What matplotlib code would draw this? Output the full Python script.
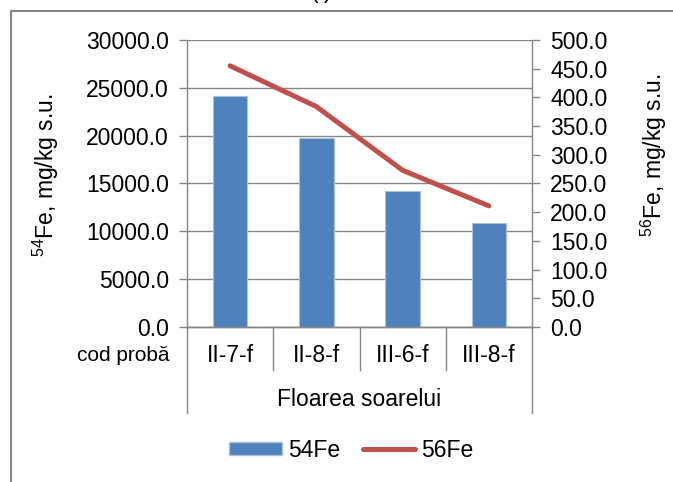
import numpy as np
import matplotlib
matplotlib.use('Agg')
import matplotlib.pyplot as plt
import matplotlib.patches as patches
from matplotlib.lines import Line2D
from matplotlib.ticker import FormatStrFormatter, MultipleLocator

plt.rcParams['font.family'] = ['Liberation Sans', 'DejaVu Sans']

# Donnees
probe = ['II-7-f', 'II-8-f', 'III-6-f', 'III-8-f']
fe54 = [24100, 19800, 14200, 10900]
fe56 = [455, 384, 273, 211]
grup = 'Floarea soarelui'

bleu = '#4F81BD'
rouge = '#C0504D'
gris = '#868686'

############################### Figure #################################
fig = plt.figure(figsize=(6.73, 4.82), dpi=100)
ax = fig.add_axes([187 / 673, 1 - 327 / 482, 345 / 673, 287 / 482])
ax2 = ax.twinx()

x = np.arange(len(probe))
ax.bar(x, fe54, width=0.4, color=bleu, edgecolor='#A9C1DF', linewidth=0.8, zorder=3)
ax2.plot(x, fe56, color=rouge, linewidth=3.6, solid_capstyle='round', zorder=4)

ax.set_xlim(-0.5, len(probe) - 0.5)
ax.set_ylim(0, 30000)
ax2.set_ylim(0, 500)
ax.yaxis.set_major_locator(MultipleLocator(5000))
ax2.yaxis.set_major_locator(MultipleLocator(50))
ax.yaxis.set_major_formatter(FormatStrFormatter('%.1f'))
ax2.yaxis.set_major_formatter(FormatStrFormatter('%.1f'))
ax.grid(axis='y', color=gris, linewidth=1.0, zorder=0)
ax.set_axisbelow(True)

for a in (ax, ax2):
    a.spines['top'].set_visible(False)
    for s in ('left', 'right', 'bottom'):
        a.spines[s].set_color(gris)
        a.spines[s].set_linewidth(1.0)
    a.tick_params(axis='y', labelsize=16.5, color=gris, length=6, width=1.0, pad=7)
ax2.spines['left'].set_visible(False)
ax.spines['right'].set_visible(False)

ax.set_xticks([])
ax.set_ylabel('$\\mathregular{^{54}}$Fe, mg/kg s.u.', fontsize=16.5)
ax2.set_ylabel('$\\mathregular{^{56}}$Fe, mg/kg s.u.', fontsize=16.5)
# position des titres d'axes (comme dans Excel, pas tout a fait centres)
ax.yaxis.label.set_verticalalignment('center')
ax2.yaxis.label.set_verticalalignment('center')
ax.yaxis.set_label_coords(-0.41, 0.53)
ax2.yaxis.set_label_coords(1.354, 0.60)

# axe des categories a deux niveaux
trans = ax.get_xaxis_transform()
for b in np.arange(len(probe) + 1) - 0.5:
    bas = -0.30 if b in (-0.5, len(probe) - 0.5) else -0.15
    ax.plot([b, b], [0, bas], color=gris, linewidth=1.0, transform=trans, clip_on=False)
for xi, p in zip(x, probe):
    ax.text(xi, -0.0976, p, transform=trans, ha='center', va='center', fontsize=16.5)
ax.text(-0.05, -0.0976, 'cod probă', transform=ax.transAxes, ha='right', va='center', fontsize=15)
ax.text(np.mean(x), -0.254, grup, transform=trans, ha='center', va='center', fontsize=16.5)

# legende
handles = [patches.Patch(facecolor=bleu, edgecolor='#A9C1DF'),
           Line2D([], [], color=rouge, linewidth=3.6, solid_capstyle='round')]
fig.legend(handles, ['54Fe', '56Fe'], loc='center', bbox_to_anchor=(0.522, 0.066),
           ncol=2, frameon=False, fontsize=16.5, handlelength=2.3, handleheight=0.5,
           handletextpad=0.25, columnspacing=1.0)

# cadre du graphique et titre coupe
fig.add_artist(Line2D([11 / 673, 11 / 673, 1], [0, 1 - 11 / 482, 1 - 11 / 482],
                      color=gris, linewidth=1.5, transform=fig.transFigure))
fig.text(321 / 673, 1.004, '(f)', ha='center', va='baseline', fontsize=16.5)

fig.savefig('out.png', dpi=100)
